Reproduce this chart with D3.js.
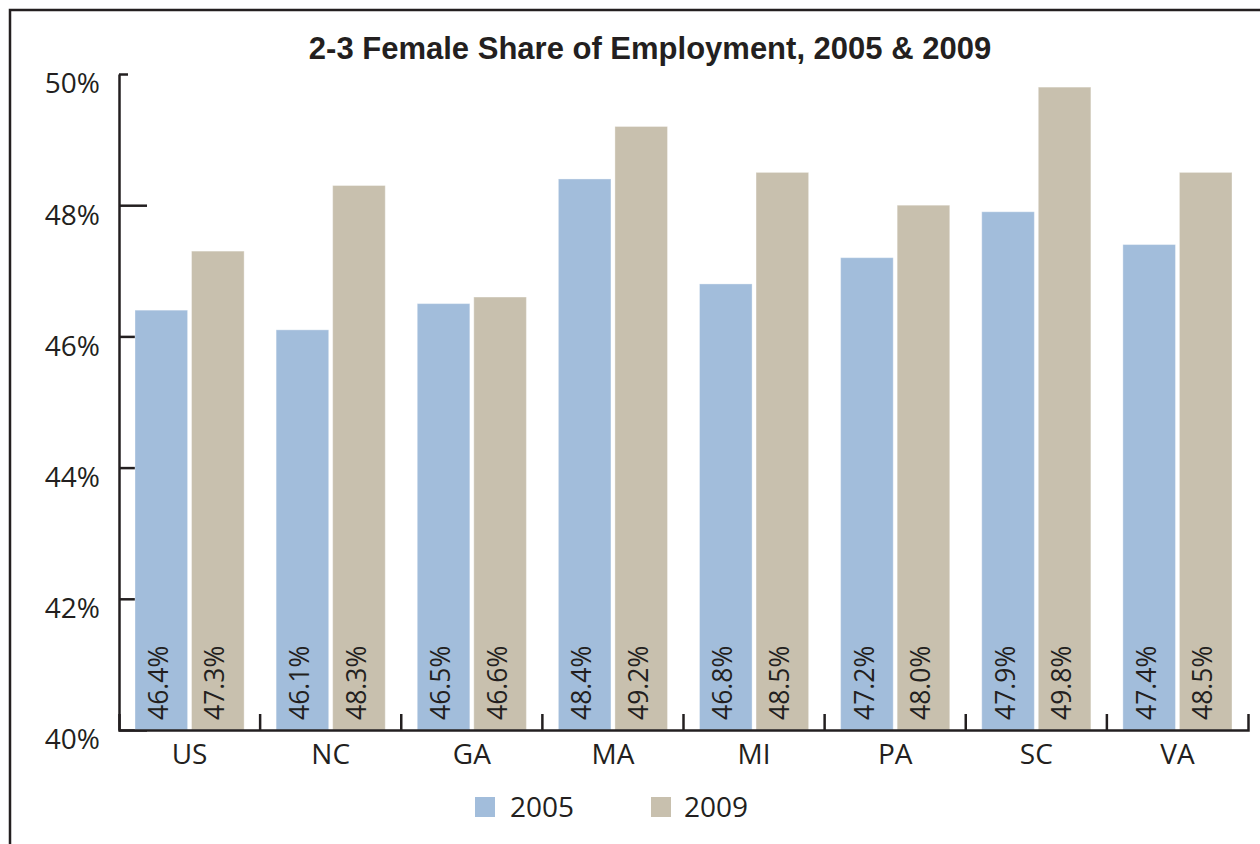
<!DOCTYPE html>
<html>
<head>
<meta charset="utf-8">
<script src="https://cdn.jsdelivr.net/npm/d3@7"></script>
<style>
  body { margin: 0; background: #fff; }
  text { fill: #231f20; }
</style>
</head>
<body>
<script>
// datos
const estados = ["US", "NC", "GA", "MA", "MI", "PA", "SC", "VA"]
const anios = ["2005", "2009"]
const valores2005 = [46.4, 46.1, 46.5, 48.4, 46.8, 47.2, 47.9, 47.4]
const valores2009 = [47.3, 48.3, 46.6, 49.2, 48.5, 48.0, 49.8, 48.5]
const ticksY = [40, 42, 44, 46, 48, 50]
const colores = ["#a2bddb", "#c8c0ae"]

const datos = estados.map((e, i) => ({ estado: e, v: [valores2005[i], valores2009[i]] }))

const W = 1260, H = 844
const svg = d3.select("body").append("svg")
    .attr("width", W).attr("height", H)

// marco
svg.append("path")
    .attr("d", "M10,844 V10 H1260")
    .attr("fill", "none")
    .attr("stroke", "#231f20")
    .attr("stroke-width", 2.5)

svg.append("text")
    .attr("x", 650).attr("y", 59)
    .attr("text-anchor", "middle")
    .style("font-family", "'Liberation Sans', Arial, sans-serif")
    .style("font-weight", "bold")
    .style("font-size", "31px")
    .text("2-3 Female Share of Employment, 2005 & 2009")

const x = d3.scaleBand().domain(estados).range([119, 1248])
const x1 = d3.scaleBand().domain(anios).range([16, x.bandwidth() - 16]).paddingInner(0.07)
const y = d3.scaleLinear().domain([40, 50]).range([730, 74])

const fuente = "'Open Sans', sans-serif"

// EJE Y
const ejeY = svg.append("g")
    .attr("transform", "translate(119,0)")
    .call(d3.axisLeft(y).tickValues(ticksY).tickFormat(d => d + "%")
        .tickSizeInner(-28).tickSizeOuter(0).tickPadding(19))
ejeY.select(".domain").attr("stroke", "#231f20").attr("stroke-width", 2.5)
ejeY.selectAll(".tick line").attr("stroke", "#231f20").attr("stroke-width", 2.5)
    .filter(d => d == 50).attr("x2", 9)
ejeY.selectAll(".tick text")
    .attr("y", 10)
    .style("font-family", fuente).style("font-size", "28px").style("fill", "#231f20")

// barras
const grupos = svg.selectAll(".grupo")
    .data(datos).enter().append("g")
    .attr("transform", d => "translate(" + x(d.estado) + ",0)")

grupos.selectAll("rect")
    .data(d => d.v.map((v, i) => ({ anio: anios[i], v: v })))
    .enter().append("rect")
    .attr("x", d => x1(d.anio))
    .attr("width", x1.bandwidth())
    .attr("y", d => y(d.v))
    .attr("height", d => y(40) - y(d.v))
    .attr("fill", (d, i) => colores[i])
    .attr("stroke", "#fff")
    .attr("stroke-opacity", 0.35)

grupos.selectAll(".etiqueta")
    .data(d => d.v.map((v, i) => ({ anio: anios[i], v: v })))
    .enter().append("text")
    .attr("transform", d => "translate(" + (x1(d.anio) + x1.bandwidth() / 2) + ",720) rotate(-90)")
    .attr("dy", "0.25em")
    .style("font-family", fuente).style("font-size", "26.5px")
    .text(d => d.v.toFixed(1) + "%")

// EJE X
const ejeX = svg.append("g")
    .attr("transform", "translate(0,730)")
    .call(d3.axisBottom(x).tickSizeInner(0).tickSizeOuter(-16).tickPadding(14))
ejeX.select(".domain").attr("stroke", "#231f20").attr("stroke-width", 2.5)
ejeX.selectAll(".tick text")
    .style("font-family", fuente).style("font-size", "28px").style("fill", "#231f20")
ejeX.selectAll(".limite")
    .data(estados.slice(1)).enter().append("line")
    .attr("x1", d => x(d)).attr("x2", d => x(d))
    .attr("y1", 0).attr("y2", -16)
    .attr("stroke", "#231f20").attr("stroke-width", 2.5)

// leyenda
const leyenda = svg.selectAll(".leyenda")
    .data(anios).enter().append("g")
    .attr("transform", (d, i) => "translate(" + [475, 651][i] + ",797)")
leyenda.append("rect")
    .attr("width", 20).attr("height", 20)
    .attr("fill", (d, i) => colores[i])
leyenda.append("text")
    .attr("x", (d, i) => [35, 33][i]).attr("y", 20)
    .style("font-family", fuente).style("font-size", "28px")
    .text(d => d)
</script>
</body>
</html>
